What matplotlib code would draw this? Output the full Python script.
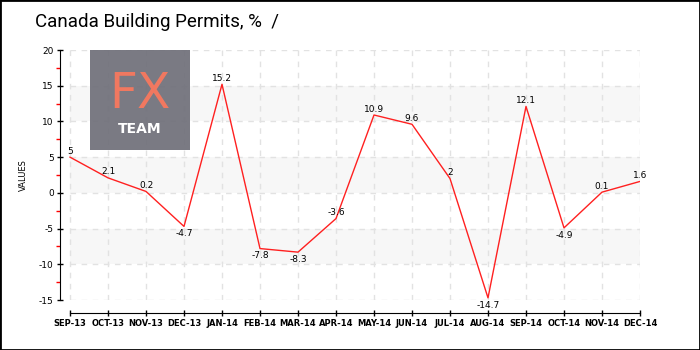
import numpy as np
import matplotlib
matplotlib.use("Agg")
import matplotlib.pyplot as plt
from matplotlib.patches import Rectangle

months = ["SEP-13", "OCT-13", "NOV-13", "DEC-13", "JAN-14", "FEB-14", "MAR-14", "APR-14",
          "MAY-14", "JUN-14", "JUL-14", "AUG-14", "SEP-14", "OCT-14", "NOV-14", "DEC-14"]
values = [5, 2.1, 0.2, -4.7, 15.2, -7.8, -8.3, -3.6, 10.9, 9.6, 2, -14.7, 12.1, -4.9, 0.1, 1.6]
yticks = [-15, -10, -5, 0, 5, 10, 15, 20]

W, H = 700, 350
fig = plt.figure(figsize=(7, 3.5), dpi=100)
ax = fig.add_axes([60 / W, (H - 300) / H, 580 / W, 250 / H])

# spines first (set_position resets the ticks)
for s in ["top", "right"]:
    ax.spines[s].set_visible(False)
ax.spines["bottom"].set_position(("outward", 9))

x = np.arange(len(months))
n = len(months) - 1

# alternating bands
for lo in [-10, 0, 10]:
    ax.fill_between([0, n], lo, lo + 5, color="#f7f7f7", lw=0, zorder=0)
# dashed grid
for yv in yticks:
    ax.plot([0, n], [yv, yv], color="#e2e2e2", lw=1, ls=(0, (4, 4)), zorder=1)
for xv in x:
    ax.plot([xv, xv], [-15, 20], color="#e2e2e2", lw=1, ls=(0, (4, 4)), zorder=1)

ax.plot(x, values, color="#ff2020", lw=1, zorder=3)

for xi, v in zip(x, values):
    txt = f"{v:g}"
    if v < -4:
        ax.annotate(txt, (xi, v), xytext=(0, -2), textcoords="offset points",
                    ha="center", va="top", fontsize=6.5, zorder=4)
    else:
        ax.annotate(txt, (xi, v), xytext=(0, 1), textcoords="offset points",
                    ha="center", va="bottom", fontsize=6.5, zorder=4)

ax.set_xlim(-10 / 38, n)
ax.set_ylim(-15, 20)
ax.set_xticks(x)
ax.set_xticklabels(months, fontsize=6, fontweight="bold")
ax.set_yticks(yticks)
ax.set_yticklabels([str(t) for t in yticks], fontsize=6.5)
ax.set_yticks(np.arange(-12.5, 20, 5), minor=True)
ax.tick_params(axis="y", which="major", direction="inout", length=5, width=1, pad=2)
ax.tick_params(axis="y", which="minor", direction="out", length=3, width=1, color="red")
ax.tick_params(axis="x", which="major", direction="inout", length=5, width=1, pad=2)

ax.spines["bottom"].set_bounds(0, n)
ax.spines["left"].set_bounds(-15, 20)
ax.patch.set_alpha(0)
ax.set_ylabel("VALUES", fontsize=6, labelpad=8)

# logo
tr = fig.transFigure
fig.patches.append(Rectangle((90 / W, (H - 150) / H), 100 / W, 100 / H, transform=tr,
                             facecolor="#6f6f79", alpha=0.92, zorder=5, figure=fig))
fig.text(140 / W, (H - 94) / H, "FX", color="#f07860", fontsize=35, ha="center",
         va="center", zorder=6)
fig.text(140 / W, (H - 129) / H, "TEAM", color="white", fontsize=10, fontweight="bold",
         ha="center", va="center", zorder=6)

fig.text(35 / W, (H - 22) / H, "Canada Building Permits, %  /", fontsize=13.5,
         family=["DejaVu Sans Condensed", "Roboto"], va="center", ha="left")

fig.patches.append(Rectangle((0, 0), 1, 1, transform=tr, fill=False, edgecolor="black",
                             lw=2, zorder=10, figure=fig))

fig.savefig("out.png", dpi=100)
